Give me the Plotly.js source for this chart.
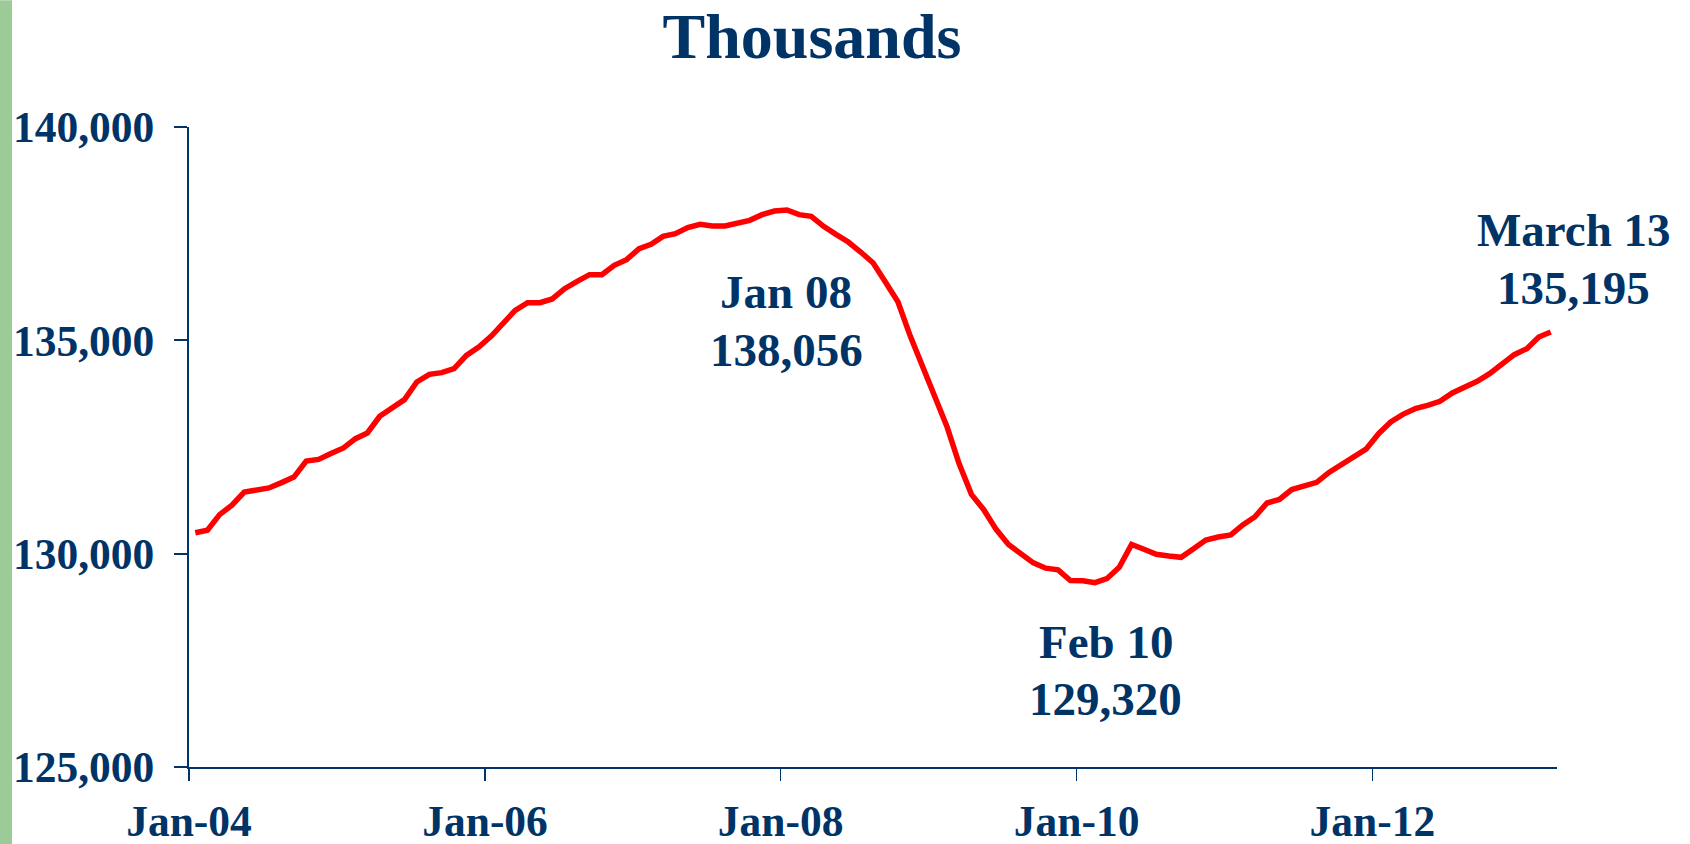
<!DOCTYPE html>
<html>
<head>
<meta charset="utf-8">
<script src="https://cdn.plot.ly/plotly-3.0.1.min.js"></script>
<style>
  html, body { margin: 0; padding: 0; background: #ffffff; }
  #chart { width: 1690px; height: 844px; }
</style>
</head>
<body>
<div id="chart"></div>
<script>
// Total nonfarm payroll employment, thousands, monthly, Jan 2004 - Mar 2013
const startYear = 2004;
const emp2004 = [130490, 130550, 130915, 131135, 131445, 131500, 131540, 131665, 131795, 132170, 132210, 132345];
const emp2005 = [132477, 132696, 132828, 133219, 133414, 133610, 134023, 134203, 134243, 134337, 134648, 134843];
const emp2006 = [135101, 135391, 135703, 135883, 135883, 135970, 136211, 136383, 136539, 136539, 136758, 136891];
const emp2007 = [137149, 137250, 137437, 137500, 137641, 137719, 137680, 137680, 137758, 137812, 137945, 138031];
const emp2008 = [138056, 137945, 137906, 137672, 137484, 137305, 137070, 136813, 136360, 135905, 135100, 134360];
const emp2009 = [133620, 132968, 132110, 131390, 131030, 130570, 130215, 130000, 129785, 129660, 129620, 129370];
const emp2010 = [129365, 129320, 129414, 129680, 130215, 130102, 129985, 129946, 129915, 130118, 130320, 130390];
const emp2011 = [130440, 130675, 130860, 131187, 131270, 131504, 131580, 131672, 131905, 132086, 132255, 132450];
const emp2012 = [132813, 133086, 133266, 133399, 133477, 133570, 133766, 133906, 134039, 134219, 134453, 134664];
const emp2013 = [134805, 135078, 135195];

const yTickVals = [125000, 130000, 135000, 140000];
const xTickVals = ['2004-01-01', '2006-01-01', '2008-01-01', '2010-01-01', '2012-01-01'];

const noteLines = [
  {text: 'Jan 08', px: 786, py: 292},
  {text: '138,056', px: 786, py: 349.5},
  {text: 'Feb 10', px: 1105.5, py: 642},
  {text: '129,320', px: 1105.5, py: 699},
  {text: 'March 13', px: 1574, py: 229.5},
  {text: '135,195', px: 1574, py: 288}
];

const values = [].concat(emp2004, emp2005, emp2006, emp2007, emp2008, emp2009, emp2010, emp2011, emp2012, emp2013);
const months = values.map((v, i) => {
  const y = startYear + Math.floor(i / 12);
  const m = (i % 12) + 1;
  return y + '-' + String(m).padStart(2, '0') + '-01';
});

const NAVY = '#003366';
const FONT = 'Liberation Serif, Times New Roman, serif';

// plot area in pixels
const L = 189, R = 1557, T = 126.7, B = 766.7;
const pxX = x => (x - L) / (R - L);
const pxY = y => (B - y) / (B - T);

const trace = {
  x: months,
  y: values,
  type: 'scatter',
  mode: 'lines',
  xperiod: 'M1',
  xperiodalignment: 'middle',
  line: {color: '#FF0000', width: 5.5},
  hoverinfo: 'skip'
};

const layout = {
  width: 1690,
  height: 844,
  margin: {l: L, r: 1690 - R, t: T, b: 844 - B, pad: 0},
  paper_bgcolor: '#ffffff',
  plot_bgcolor: '#ffffff',
  showlegend: false,
  title: {
    text: 'Thousands',
    font: {family: FONT, size: 64, color: NAVY, weight: 'bold'},
    xref: 'container', x: 812 / 1690, xanchor: 'center',
    yref: 'container', y: 1 - 13 / 844, yanchor: 'top',
    pad: {t: 0, b: 0, l: 0, r: 0}
  },
  xaxis: {
    type: 'date',
    range: ['2004-01-01', '2013-04-01'],
    tickmode: 'array',
    tickvals: xTickVals,
    tickformat: '%b-%y',
    ticks: 'outside', ticklen: 12, tickwidth: 1.5, tickcolor: NAVY,
    ticklabelstandoff: 3,
    showline: true, linewidth: 2, linecolor: NAVY,
    showgrid: false, zeroline: false,
    tickfont: {family: FONT, size: 43.5, color: NAVY, weight: 'bold'}
  },
  yaxis: {
    range: [125000, 140000],
    tickmode: 'array',
    tickvals: yTickVals,
    tickformat: ',d',
    ticks: 'outside', ticklen: 13, tickwidth: 2, tickcolor: NAVY,
    ticklabelstandoff: 11,
    showline: true, linewidth: 2, linecolor: NAVY,
    showgrid: false, zeroline: false,
    tickfont: {family: FONT, size: 43.5, color: NAVY, weight: 'bold'}
  },
  shapes: [{
    type: 'rect', xref: 'paper', yref: 'paper', layer: 'below',
    x0: pxX(0), x1: pxX(12), y0: pxY(844), y1: pxY(0),
    fillcolor: '#9DCB98', line: {width: 0}
  }],
  annotations: noteLines.map(n => ({
    text: n.text,
    xref: 'paper', yref: 'paper',
    x: pxX(n.px), y: pxY(n.py),
    xanchor: 'center', yanchor: 'middle',
    showarrow: false,
    font: {family: FONT, size: 47, color: NAVY, weight: 'bold'}
  }))
};

Plotly.newPlot('chart', [trace], layout, {staticPlot: true, displayModeBar: false});
</script>
</body>
</html>
